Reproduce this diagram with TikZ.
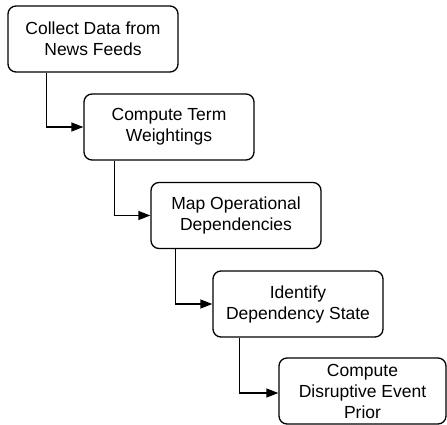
\documentclass[tikz,border=0pt]{standalone}
\usepackage{fontspec}
\setmainfont{Liberation Sans}
\usetikzlibrary{arrows.meta}
\begin{document}
\begin{tikzpicture}[x=1pt,y=1pt,
  box/.style={draw, line width=1.3pt, rounded corners=8pt, minimum width=170pt, minimum height=66pt, inner sep=0pt, align=center, font=\fontsize{17.5}{21}\selectfont},
  arr/.style={line width=1.3pt, -{Triangle[length=12pt,width=9pt]}}]
\useasboundingbox (0,0) rectangle (447,-425);
\node[box] (b1) at (93,-39) {Collect Data from\\News Feeds};
\node[box] (b2) at (169,-127) {Compute Term\\Weightings};
\node[box] (b3) at (236,-215.5) {Map Operational\\Dependencies};
\node[box] (b4) at (298,-304) {Identify\\Dependency State};
\node[box, minimum width=167pt] (b5) at (362.5,-391) {Compute\\Disruptive Event\\Prior};
\draw[arr] ([xshift=39pt]b1.south west) |- (b2.west);
\draw[arr] ([xshift=31pt]b2.south west) |- (b3.west);
\draw[arr] ([xshift=25pt]b3.south west) |- (b4.west);
\draw[arr] ([xshift=27pt]b4.south west) |- ([yshift=-2pt]b5.west);
\end{tikzpicture}
\end{document}
